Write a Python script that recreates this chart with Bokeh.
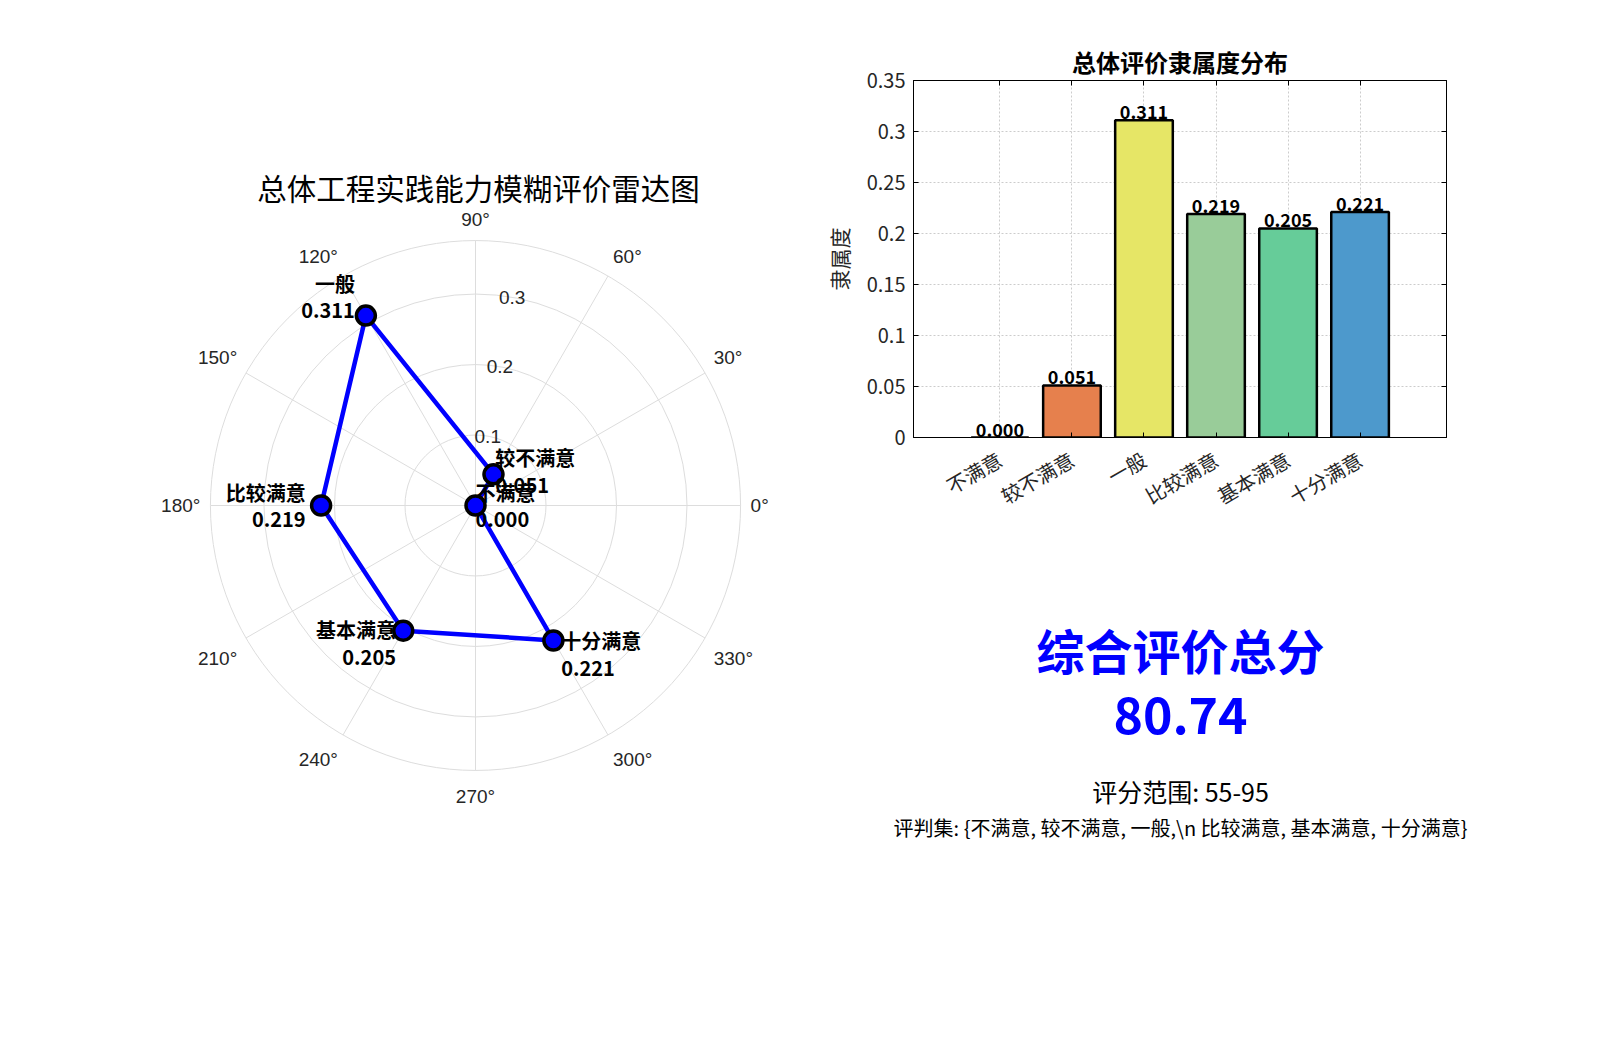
import numpy as np
from bokeh.plotting import figure
from bokeh.layouts import row, column
from bokeh.models import Range1d, FixedTicker, LinearAxis
from bokeh.core.properties import value
from bokeh.embed import file_html
from bokeh.resources import INLINE

# evaluation grades and membership degrees
grades = ["不满意", "较不满意", "一般", "比较满意", "基本满意", "十分满意"]
membership = [0.000, 0.051, 0.311, 0.219, 0.205, 0.221]
bar_colors = ["#CC4D4D", "#E6804D", "#E6E666", "#99CC99", "#66CC99", "#4D99CC"]

# polar axes
grade_angles = [0, 60, 120, 180, 240, 300]
r_ticks = [0.1, 0.2, 0.3]
r_max = 0.376
theta_ticks = list(range(0, 360, 30))

# bar axes
y_ticks = [0, 0.05, 0.1, 0.15, 0.2, 0.25, 0.3, 0.35]
y_tick_labels = ["0", "0.05", "0.1", "0.15", "0.2", "0.25", "0.3", "0.35"]

# summary
total_score = 80.74
score_range = "55-95"

CJK = "Noto Sans CJK SC"
TXT = "#262626"

# ---------------- radar chart ----------------
S = 705.0          # px per unit radius
cx, cy = 475, 505  # centre inside the figure (px from left / top)
PW, PH = 800, 1034
pp = figure(width=PW, height=PH, output_backend="svg", toolbar_location=None,
            x_range=Range1d(-cx / S, (PW - cx) / S),
            y_range=Range1d(-(PH - cy) / S, cy / S), min_border=0)
pp.axis.visible = False
pp.grid.visible = False
pp.outline_line_color = None

ring_r = r_ticks + [r_max]
pp.circle(x=[0] * len(ring_r), y=[0] * len(ring_r), radius=ring_r,
          fill_color=None, line_color="#dddddd", line_width=1)
th = np.deg2rad(theta_ticks)
pp.segment(x0=0, y0=0, x1=r_max * np.cos(th), y1=r_max * np.sin(th),
           line_color="#dddddd", line_width=1)

# angle labels: nearest edge of each label sits just outside the outer ring
lab_r = r_max + 10 / S
c, s = np.cos(th), np.sin(th)
ang_align = ["left" if v > 0.01 else "right" if v < -0.01 else "center" for v in c]
ang_base = ["bottom" if v > 0.01 else "top" if v < -0.01 else "middle" for v in s]
ang_dy = [5 if v < -0.01 else 0 for v in s]
pp.text(x=lab_r * c, y=lab_r * s, text=["%d°" % t for t in theta_ticks],
        text_align=ang_align, text_baseline=ang_base, y_offset=ang_dy,
        text_font=value("Liberation Sans"), text_font_size="19px",
        text_color=TXT)

ra = np.deg2rad(80)
pp.text(x=np.array(r_ticks) * np.cos(ra), y=np.array(r_ticks) * np.sin(ra),
        text=["%g" % r for r in r_ticks], text_align="center",
        text_baseline="middle", text_font=value("Liberation Sans"),
        text_font_size="19px", text_color=TXT)

ga = np.deg2rad(grade_angles)
mr = np.array(membership)
px = mr * np.cos(ga)
py = mr * np.sin(ga)
pp.line(x=list(px) + [px[0]], y=list(py) + [py[0]], line_color="#0000FF",
        line_width=4.5)
pp.scatter(x=px, y=py, size=19, fill_color="#0000FF", line_color="black",
           line_width=3.5)

labels = ["%s\n%.3f" % (g, m) for g, m in zip(grades, membership)]
aligns = ["left" if np.cos(a) > 0.01 else "right" for a in ga]
pp.text(x=1.1 * px, y=1.1 * py, text=labels, text_align=aligns,
        text_baseline="middle", text_font=value(CJK), text_font_style="bold",
        text_font_size="20px", text_color="black", text_line_height=0.92)

pp.text(x=[(478 - cx) / S], y=[(cy - 186) / S],
        text=["总体工程实践能力模糊评价雷达图"], text_align="center",
        text_baseline="middle", text_font=value(CJK), text_font_size="29.5px",
        text_color="black")

# ---------------- bar chart ----------------
xs = list(range(1, len(grades) + 1))
pb = figure(width=783, height=530, output_backend="svg", toolbar_location=None,
            x_range=Range1d(-0.2, 7.2), y_range=Range1d(0, 0.35),
            min_border_left=113, min_border_right=137, min_border_top=80,
            min_border_bottom=93)
pb.frame_align = False
pb.title.text = "总体评价隶属度分布"
pb.title.align = "center"
pb.title.text_font = CJK
pb.title.text_font_style = "bold"
pb.title.text_font_size = "24px"
pb.title.text_color = "black"
pb.title.standoff = 4
pb.outline_line_color = "black"
pb.outline_line_width = 1

pb.vbar(x=xs, top=membership, width=0.8, fill_color=bar_colors,
        line_color="black", line_width=2.5)
pb.text(x=xs, y=membership, text=["%.3f" % m for m in membership],
        text_align="center", text_baseline="bottom", y_offset=-1,
        text_font=value(CJK), text_font_style="bold", text_font_size="18px",
        text_color="black")

pb.yaxis.ticker = FixedTicker(ticks=y_ticks)
pb.yaxis.major_label_overrides = dict(zip(y_ticks, y_tick_labels))
pb.xaxis.ticker = FixedTicker(ticks=xs)
pb.xaxis.major_label_overrides = dict(zip(xs, grades))
pb.xaxis.major_label_orientation = np.deg2rad(30)
pb.yaxis.axis_label = "隶属度"
pb.yaxis.axis_label_text_font = CJK
pb.yaxis.axis_label_text_font_style = "normal"
pb.yaxis.axis_label_text_font_size = "21px"
pb.yaxis.axis_label_text_color = TXT
pb.yaxis.axis_label_standoff = 10
for ax in (pb.xaxis[0], pb.yaxis[0]):
    ax.major_label_text_font = CJK
    ax.major_label_text_font_size = "20px"
    ax.major_label_text_color = TXT
    ax.major_label_standoff = 8
    ax.major_tick_in = 5
    ax.major_tick_out = 0
    ax.minor_tick_line_color = None
    ax.axis_line_color = "black"
    ax.major_tick_line_color = "black"
pb.xaxis.major_label_standoff = 20

pb.add_layout(LinearAxis(ticker=FixedTicker(ticks=y_ticks),
                         major_label_text_font_size="0px", major_tick_in=5,
                         major_tick_out=0, minor_tick_line_color=None), "right")
pb.add_layout(LinearAxis(ticker=FixedTicker(ticks=xs),
                         major_label_text_font_size="0px", major_tick_in=5,
                         major_tick_out=0, minor_tick_line_color=None), "above")

pb.grid.grid_line_color = "#cccccc"
pb.grid.grid_line_dash = "2 2"
pb.xgrid.ticker = FixedTicker(ticks=xs)
pb.ygrid.ticker = FixedTicker(ticks=y_ticks)

# ---------------- summary text ----------------
TW, TH = 783, 504
pt = figure(width=TW, height=TH, output_backend="svg", toolbar_location=None,
            x_range=Range1d(0, TW), y_range=Range1d(TH, 0), min_border=0)
pt.frame_align = False
pt.axis.visible = False
pt.grid.visible = False
pt.outline_line_color = None

tx = 1180 - 800
top = 530
pt.text(x=[tx, tx], y=[648 - top, 715 - top],
        text=["综合评价总分", "%.2f" % total_score], text_align="center",
        text_baseline="middle", text_font=value(CJK), text_font_style="bold",
        text_font_size=["48px", "50px"], text_color="#0000FF")
set_text = ("评判集: {" + ", ".join(grades[:3]) + ",\\n " +
            ", ".join(grades[3:]) + "}")
pt.text(x=[tx, tx], y=[790 - top, 827 - top],
        text=["评分范围: " + score_range, set_text], text_align="center",
        text_baseline="middle", text_font=value(CJK),
        text_font_size=["25px", "20px"], text_color="black")

layout = row(pp, column(pb, pt))
open("out.html", "w").write(file_html(layout, INLINE))
